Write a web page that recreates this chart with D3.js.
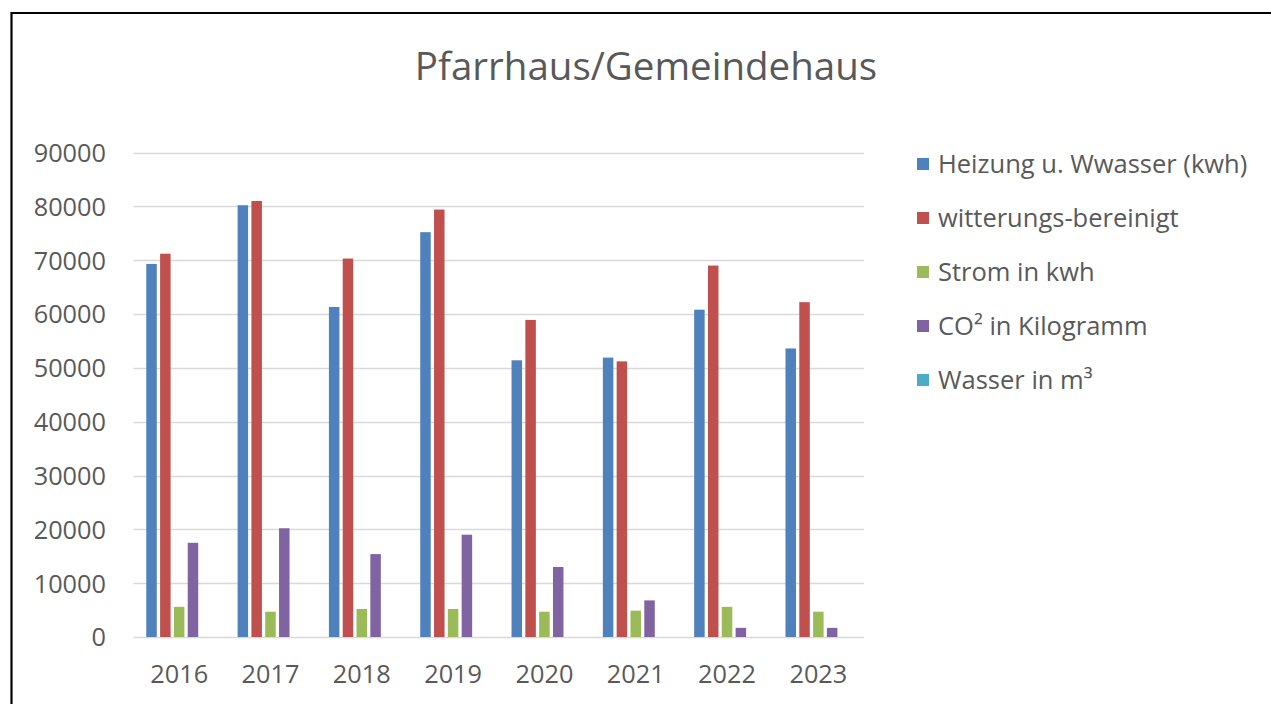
<!DOCTYPE html>
<html>
<head>
<meta charset="utf-8">
<script src="https://cdn.jsdelivr.net/npm/d3@7"></script>
<style>
	html, body { margin: 0; background: #fff; overflow: hidden; }
	svg { display: block; }
	svg text { font-family: "Open Sans", "Noto Sans", sans-serif; fill: #595959; }
</style>
</head>
<body>
<div id="chart"></div>
<script>
/* data */
var years = ["2016", "2017", "2018", "2019", "2020", "2021", "2022", "2023"];
var seriesNames = ["Heizung u. Wwasser (kwh)", "witterungs-bereinigt", "Strom in kwh", "CO\u00B2 in Kilogramm", "Wasser in m\u00B3"];
var seriesColors = ["#4F81BD", "#C0504D", "#9BBB59", "#8064A2", "#4BACC6"];
var heizung = [69300, 80200, 61300, 75200, 51400, 51900, 60800, 53600];
var bereinigt = [71200, 81000, 70300, 79400, 58900, 51200, 69000, 62200];
var strom = [5600, 4700, 5200, 5200, 4700, 4900, 5600, 4700];
var co2 = [17500, 20200, 15400, 19000, 13000, 6800, 1700, 1700];
var wasser = [0, 0, 0, 0, 0, 0, 0, 0];
var yTicks = [0, 10000, 20000, 30000, 40000, 50000, 60000, 70000, 80000, 90000];

var values = [heizung, bereinigt, strom, co2, wasser];

var W = 1271, H = 704;
var svg = d3.select("#chart").append("svg")
	.attr("width", W)
	.attr("height", H);

// outer frame: only the top and left edges are inside the picture
svg.append("path")
	.attr("d", "M11.5," + H + "V13H" + W)
	.attr("fill", "none")
	.attr("stroke", "#000")
	.attr("stroke-width", 2.2);

svg.append("text")
	.attr("x", 646)
	.attr("y", 80)
	.attr("text-anchor", "middle")
	.style("font-size", "38.5px")
	.text("Pfarrhaus/Gemeindehaus");

var x0 = d3.scaleBand()
	.domain(years)
	.range([133.5, 864])
	.paddingInner(0.28)
	.paddingOuter(0.14);

var x1 = d3.scaleBand()
	.domain(d3.range(seriesNames.length))
	.range([0, x0.bandwidth()])
	.paddingInner(0.24);

var y = d3.scaleLinear()
	.domain([0, 90000])
	.range([637, 152.5]);

//gridlines
svg.append("g").selectAll("line")
	.data(yTicks)
	.enter()
	.append("line")
	.attr("x1", 133.5).attr("x2", 864)
	.attr("y1", function(d){ return Math.round(y(d)) + 0.5; })
	.attr("y2", function(d){ return Math.round(y(d)) + 0.5; })
	.attr("stroke", "#D9D9D9")
	.attr("stroke-width", 1.5);

var yAxis = svg.append("g")
	.attr("transform", "translate(106,0)")
	.call(d3.axisLeft(y).tickValues(yTicks).tickSize(0).tickPadding(0).tickFormat(d3.format("d")));
yAxis.select(".domain").remove();
yAxis.selectAll("text")
	.attr("dy", "0.35em")
	.style("font-size", "25.3px");

var xAxis = svg.append("g")
	.attr("transform", "translate(0,637)")
	.call(d3.axisBottom(x0).tickSize(0).tickPadding(0));
xAxis.select(".domain").remove();
xAxis.selectAll("text")
	.attr("y", 0)
	.attr("dy", 46)
	.style("font-size", "25.3px");

// bars
var groups = svg.append("g").selectAll("g")
	.data(years)
	.enter()
	.append("g")
	.attr("transform", function(d){ return "translate(" + x0(d) + ",0)"; });

groups.selectAll("rect")
	.data(function(d, i){
		return values.map(function(s, k){ return {k: k, v: s[i]}; });
	})
	.enter()
	.append("rect")
	.attr("x", function(d){ return x1(d.k); })
	.attr("width", x1.bandwidth())
	.attr("y", function(d){ return y(d.v); })
	.attr("height", function(d){ return y(0) - y(d.v); })
	.attr("fill", function(d){ return seriesColors[d.k]; });

// legend
var legend = svg.append("g").selectAll("g")
	.data(seriesNames)
	.enter()
	.append("g")
	.attr("transform", function(d, i){ return "translate(917," + (164 + i * 54) + ")"; });

legend.append("rect")
	.attr("x", 0).attr("y", -6)
	.attr("width", 12).attr("height", 12)
	.attr("fill", function(d, i){ return seriesColors[i]; });

legend.append("text")
	.attr("x", 21)
	.attr("dy", "0.35em")
	.style("font-size", "25.5px")
	.text(function(d){ return d; });
</script>
</body>
</html>
